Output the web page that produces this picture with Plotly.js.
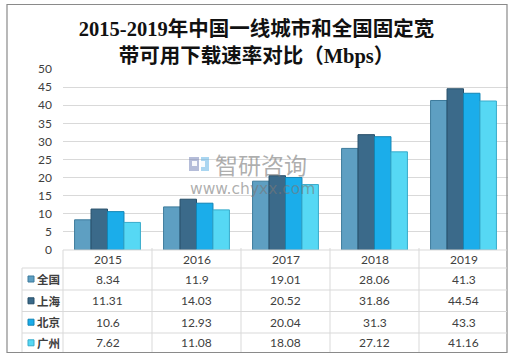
<!DOCTYPE html>
<html>
<head>
<meta charset="utf-8">
<script src="https://cdn.plot.ly/plotly-3.0.1.min.js"></script>
<style>html,body{margin:0;padding:0;background:#fff;}#chart{width:513px;height:355px;}</style>
</head>
<body>
<div id="chart"></div>
<script>
const years = ['2015', '2016', '2017', '2018', '2019'];
const seriesNames = ['全国', '上海', '北京', '广州'];
const national = [8.34, 11.9, 19.01, 28.06, 41.3];
const shanghai = [11.31, 14.03, 20.52, 31.86, 44.54];
const beijing = [10.6, 12.93, 20.04, 31.3, 43.3];
const guangzhou = [7.62, 11.08, 18.08, 27.12, 41.16];
const seriesValues = [national, shanghai, beijing, guangzhou];
const yTicks = [0, 5, 10, 15, 20, 25, 30, 35, 40, 45, 50];

const fills = ['#5e9fc2', '#3b6a8a', '#1badea', '#56d8f4'];
const borders = ['#3d7b9c', '#264e68', '#1285b5', '#38abcb'];

// layout frame (pixels)
const L = 63, R = 508, T = 69, B = 250;
const W = R - L, H = B - T;
const px = x => (x - L) / W;
const py = y => (B - y) / H;

const traces = seriesNames.map((n, i) => ({
  type: 'bar', name: n, x: years, y: seriesValues[i],
  marker: {color: fills[i], line: {color: borders[i], width: 1}},
  hoverinfo: 'skip'
}));

const lineCol = '#d9d9d9';
const shapes = [];
// outer border
shapes.push({type: 'rect', xref: 'paper', yref: 'paper', x0: px(7), x1: px(507), y0: py(352.5), y1: py(4.5),
  line: {color: '#8a8a8a', width: 1.2}, layer: 'above'});
// table horizontal lines
const rowLines = [268, 290, 311.5, 333];
rowLines.forEach(y => shapes.push({type: 'line', xref: 'paper', yref: 'paper', x0: px(22), x1: px(507), y0: py(y), y1: py(y), line: {color: lineCol, width: 1}}));
shapes.push({type: 'line', xref: 'paper', yref: 'paper', x0: px(63), x1: px(507), y0: py(250), y1: py(250), line: {color: lineCol, width: 1}});
// vertical lines
shapes.push({type: 'line', xref: 'paper', yref: 'paper', x0: px(22), x1: px(22), y0: py(268), y1: py(352), line: {color: lineCol, width: 1}});
shapes.push({type: 'line', xref: 'paper', yref: 'paper', x0: px(63), x1: px(63), y0: py(250), y1: py(352), line: {color: lineCol, width: 1}});
for (let i = 1; i < years.length; i++) {
  shapes.push({type: 'line', xref: 'x', yref: 'paper', x0: i - 0.5, x1: i - 0.5, y0: py(248), y1: py(352), line: {color: lineCol, width: 1}});
}
// legend key squares
const rowCenters = [279, 300.8, 322.2, 342.8];
seriesNames.forEach((n, i) => {
  shapes.push({type: 'rect', xref: 'paper', yref: 'paper', x0: px(28), x1: px(34), y0: py(rowCenters[i] + 3), y1: py(rowCenters[i] - 3),
    fillcolor: fills[i], line: {color: borders[i], width: 1}});
});
// watermark logo
shapes.push({type: 'rect', xref: 'paper', yref: 'paper', x0: px(189), x1: px(199), y0: py(171), y1: py(157), fillcolor: 'rgba(120,135,185,0.55)', line: {width: 0}, layer: 'above'});
shapes.push({type: 'rect', xref: 'paper', yref: 'paper', x0: px(201), x1: px(209), y0: py(171), y1: py(157), fillcolor: 'rgba(100,180,230,0.55)', line: {width: 0}, layer: 'above'});
shapes.push({type: 'rect', xref: 'paper', yref: 'paper', x0: px(192), x1: px(197), y0: py(166), y1: py(161), fillcolor: 'rgba(255,255,255,0.9)', line: {width: 0}, layer: 'above'});
shapes.push({type: 'rect', xref: 'paper', yref: 'paper', x0: px(201), x1: px(205), y0: py(167), y1: py(161), fillcolor: 'rgba(255,255,255,0.9)', line: {width: 0}, layer: 'above'});

const tfont = {family: 'Lato, "Noto Sans", sans-serif', size: 12, color: '#404040'};
const annotations = [];
years.forEach((yr, j) => annotations.push({x: j, xref: 'x', xanchor: 'center', y: py(259), yref: 'paper', yanchor: 'middle', text: yr, showarrow: false, font: tfont}));
seriesNames.forEach((n, i) => {
  annotations.push({x: px(35), xref: 'paper', xanchor: 'left', y: py(rowCenters[i]), yref: 'paper', yanchor: 'middle', text: '<b>' + n + '</b>', showarrow: false,
    font: {family: '"Noto Sans CJK SC", sans-serif', size: 11.5, color: '#404040'}});
  seriesValues[i].forEach((v, j) => annotations.push({x: j, xref: 'x', xanchor: 'center', y: py(rowCenters[i]), yref: 'paper', yanchor: 'middle', text: String(v), showarrow: false, font: tfont}));
});
// watermark text
annotations.push({x: px(213), xref: 'paper', xanchor: 'left', y: py(163.5), yref: 'paper', yanchor: 'middle', text: '智研咨询', showarrow: false,
  font: {family: '"Noto Sans CJK SC", sans-serif', size: 23, color: 'rgba(120,120,120,0.6)'}});
annotations.push({x: px(188), xref: 'paper', xanchor: 'left', y: py(189), yref: 'paper', yanchor: 'middle', text: 'www.chyxx.com', showarrow: false,
  font: {family: '"DejaVu Sans", sans-serif', size: 15.5, color: 'rgba(120,120,120,0.6)'}});

const layout = {
  width: 513, height: 355,
  margin: {l: L, r: 513 - R, t: T, b: 355 - B, pad: 0},
  paper_bgcolor: '#fff', plot_bgcolor: '#fff',
  showlegend: false,
  barmode: 'group', bargap: 0.26, bargroupgap: 0,
  title: {text: '<b>2015-2019年中国一线城市和全国固定宽<br>带可用下载速率对比（Mbps）</b>', x: 0.5, xref: 'container', xanchor: 'center',
    y: 1 - 36 / 355, yref: 'container', yanchor: 'middle',
    font: {family: '"Liberation Serif", "Noto Sans CJK SC", serif', size: 20.5, color: '#111'}},
  xaxis: {type: 'category', categoryorder: 'array', categoryarray: years, range: [-0.5, years.length - 0.5], autorange: false,
    showticklabels: false, showgrid: false, showline: false, zeroline: false, ticks: ''},
  yaxis: {range: [0, 50], autorange: false, tickvals: yTicks, ticktext: yTicks.map(String), showgrid: true, gridcolor: lineCol, gridwidth: 1,
    zeroline: false, showline: false, ticks: '', ticklabelstandoff: 10,
    tickfont: {family: 'Lato, "Noto Sans", sans-serif', size: 12, color: '#404040'}},
  shapes: shapes,
  annotations: annotations
};
Plotly.newPlot('chart', traces, layout, {staticPlot: true, displayModeBar: false});
</script>
</body>
</html>
